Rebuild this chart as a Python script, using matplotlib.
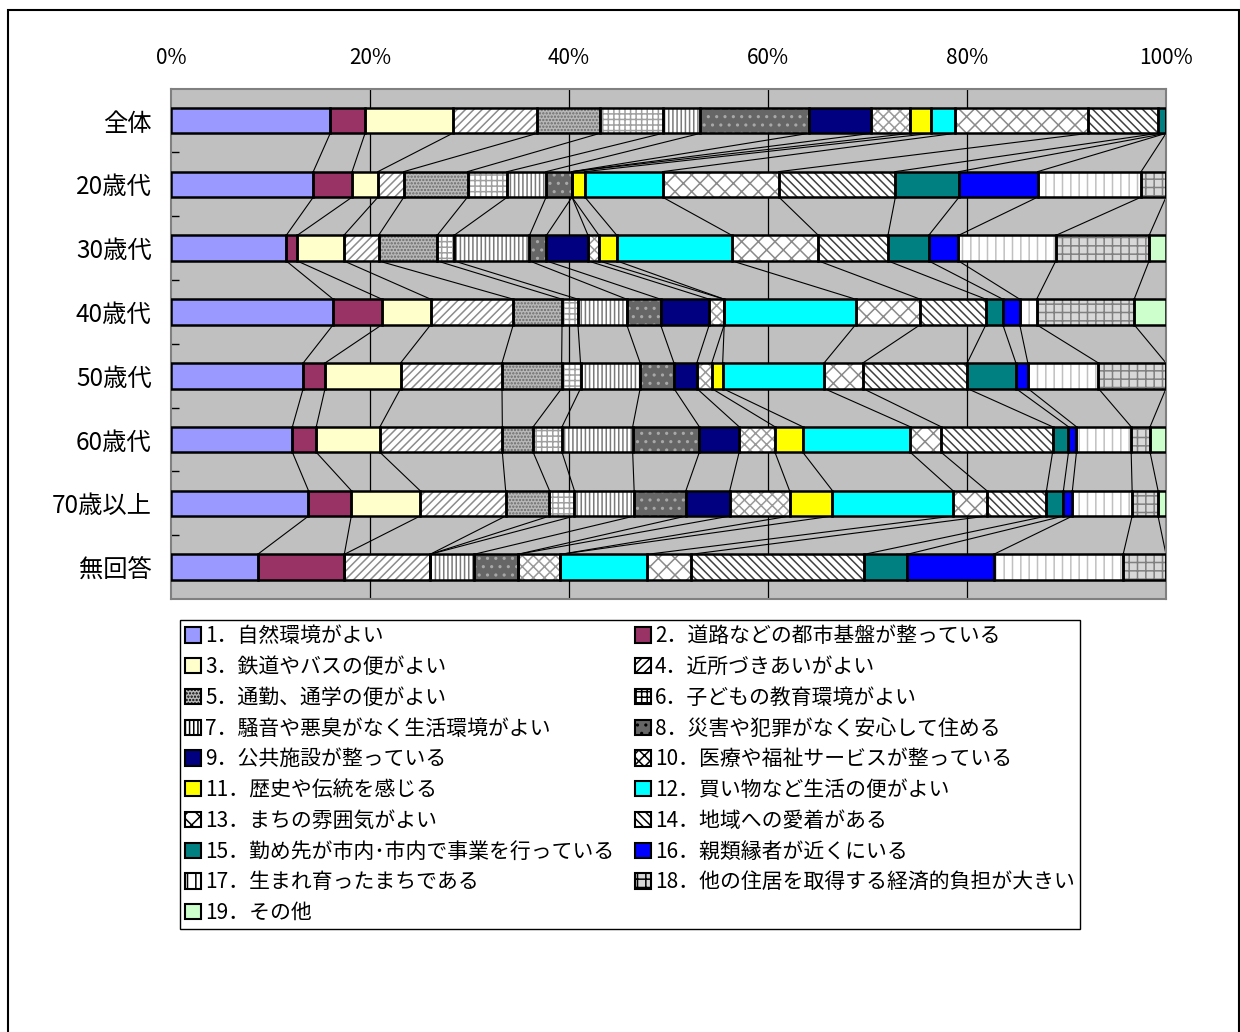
import numpy as np
import matplotlib.pyplot as plt
from matplotlib.patches import Patch, Rectangle

plt.rcParams['font.family'] = ['Noto Sans CJK JP', 'DejaVu Sans']
plt.rcParams['hatch.linewidth'] = 1.1

# categories (top to bottom)
groups = ["全体", "20歳代", "30歳代", "40歳代", "50歳代", "60歳代", "70歳以上", "無回答"]

labels = [
    "1．自然環境がよい",
    "2．道路などの都市基盤が整っている",
    "3．鉄道やバスの便がよい",
    "4．近所づきあいがよい",
    "5．通勤、通学の便がよい",
    "6．子どもの教育環境がよい",
    "7．騒音や悪臭がなく生活環境がよい",
    "8．災害や犯罪がなく安心して住める",
    "9．公共施設が整っている",
    "10．医療や福祉サービスが整っている",
    "11．歴史や伝統を感じる",
    "12．買い物など生活の便がよい",
    "13．まちの雰囲気がよい",
    "14．地域への愛着がある",
    "15．勤め先が市内･市内で事業を行っている",
    "16．親類縁者が近くにいる",
    "17．生まれ育ったまちである",
    "18．他の住居を取得する経済的負担が大きい",
    "19．その他",
]

# percent values per group, one list per answer 1..19
s01 = [16.0, 14.3, 11.6, 16.3, 13.3, 12.2, 13.8, 8.7]
s02 = [3.5, 3.9, 1.1, 4.9, 2.2, 2.4, 4.3, 8.7]
s03 = [8.8, 2.6, 4.7, 4.9, 7.6, 6.4, 6.9, 0.0]
s04 = [8.5, 2.6, 3.5, 8.3, 10.2, 12.3, 8.6, 8.6]
s05 = [6.3, 6.4, 5.9, 4.9, 6.0, 3.1, 4.4, 0.0]
s06 = [6.3, 4.0, 1.7, 1.6, 1.9, 2.9, 2.5, 0.0]
s07 = [3.8, 3.9, 7.6, 4.9, 6.0, 7.1, 6.0, 4.4]
s08 = [10.9, 2.6, 1.7, 3.4, 3.4, 6.7, 5.2, 4.4]
s09 = [6.3, 0.0, 4.2, 4.9, 2.3, 4.0, 4.4, 0.0]
s10 = [3.9, 0.0, 1.1, 1.5, 1.5, 3.6, 6.0, 4.3]
s11 = [2.1, 1.3, 1.8, 0.0, 1.1, 2.8, 4.3, 0.0]
s12 = [2.4, 7.8, 11.6, 13.2, 10.2, 10.8, 12.1, 8.7]
s13 = [13.4, 11.7, 8.7, 6.5, 3.9, 3.1, 3.4, 4.4]
s14 = [7.0, 11.7, 7.0, 6.6, 10.5, 11.2, 6.0, 17.4]
s15 = [0.8, 6.4, 4.1, 1.7, 4.9, 1.6, 1.7, 4.3]
s16 = [0.0, 7.9, 3.0, 1.7, 1.2, 0.8, 0.9, 8.7]
s17 = [0.0, 10.4, 9.8, 1.7, 7.1, 5.5, 6.0, 13.0]
s18 = [0.0, 2.5, 9.4, 9.8, 6.8, 1.9, 2.6, 4.3]
s19 = [0.0, 0.0, 1.7, 3.2, 0.0, 1.6, 0.8, 0.0]

series = [s01, s02, s03, s04, s05, s06, s07, s08, s09, s10,
          s11, s12, s13, s14, s15, s16, s17, s18, s19]

# fill style per answer: (face, hatch, hatch colour)
styles = [
    ("#9999FF", None, None),
    ("#993366", None, None),
    ("#FFFFCC", None, None),
    ("white", "////", "#8c8c8c"),
    ("#b8b8b8", ".....", "#6a6a6a"),
    ("white", "+++", "#a0a0a0"),
    ("white", "||||", "#7a7a7a"),
    ("#666666", "..", "#a8a8a8"),
    ("#000080", None, None),
    ("white", "xxx", "#9a9a9a"),
    ("#FFFF00", None, None),
    ("#00FFFF", None, None),
    ("white", "xx", "#8a8a8a"),
    ("white", "\\\\\\\\", "#404040"),
    ("#008080", None, None),
    ("#0000FF", None, None),
    ("white", "||", "#c0c0c0"),
    ("#d8d8d8", "++", "#808080"),
    ("#CCFFCC", None, None),
]

data = np.array(series)
data = data / data.sum(axis=0) * 100
cum = np.vstack([np.zeros(len(groups)), np.cumsum(data, axis=0)])

fig = plt.figure(figsize=(12.4, 10.32), dpi=100)
ax = fig.add_axes([171 / 1240, 1 - 599 / 1032, 995 / 1240, 510.3 / 1032])
ax.set_facecolor("#C0C0C0")

y = np.arange(len(groups))
h = 0.4

for xv in [20, 40, 60, 80]:
    ax.axvline(xv, color="black", lw=0.9, zorder=1)

for k in range(len(series)):
    face, hatch, hc = styles[k]
    if hatch:
        ax.barh(y, data[k], left=cum[k], height=h, color=face, hatch=hatch,
                edgecolor=hc, linewidth=0, zorder=3)
    else:
        ax.barh(y, data[k], left=cum[k], height=h, color=face, linewidth=0, zorder=3)
    ax.barh(y, data[k], left=cum[k], height=h, fill=False,
            edgecolor="black", linewidth=1.8, zorder=4)

# series lines between neighbouring bars
for i in range(len(groups) - 1):
    for k in range(1, len(series) + 1):
        ax.plot([cum[k][i], cum[k][i + 1]], [i + h / 2, i + 1 - h / 2],
                color="black", lw=0.8, zorder=2)

ax.set_xlim(0, 100)
ax.set_ylim(len(groups) - 0.5, -0.5)
ax.set_xticks([0, 20, 40, 60, 80, 100])
ax.set_xticklabels(["0%", "20%", "40%", "60%", "80%", "100%"], fontsize=15)
ax.xaxis.tick_top()
ax.tick_params(axis="x", length=0, pad=14)
ax.set_yticks(y)
ax.set_yticklabels(groups, fontsize=17.5)
ax.set_yticks(np.arange(0.5, len(groups) - 0.5, 1), minor=True)
ax.tick_params(axis="y", which="major", length=0, pad=14)
ax.tick_params(axis="y", which="minor", direction="in", length=6, width=1, color="black")
for sp in ax.spines.values():
    sp.set_color("#808080")
    sp.set_linewidth(1.5)

# legend in row order (1 left, 2 right, ...)
handles = [Patch(facecolor=styles[k][0], hatch=styles[k][1], edgecolor="black",
                 linewidth=1.5, label=labels[k]) for k in range(len(series))]
order = list(range(0, 19, 2)) + list(range(1, 19, 2))
leg = fig.legend([handles[k] for k in order], [labels[k] for k in order],
                 loc="upper left", bbox_to_anchor=(180 / 1240, 1 - 620 / 1032),
                 ncol=2, fontsize=15, frameon=True, fancybox=False,
                 edgecolor="black", framealpha=1, borderpad=0.25,
                 handlelength=0.75, handleheight=0.75, handletextpad=0.2,
                 labelspacing=0.42, columnspacing=1.0, borderaxespad=0)
leg.get_frame().set_linewidth(1.0)

fig.add_artist(Rectangle((8 / 1240, -0.01), 1231 / 1240, 1 - 10 / 1032 + 0.01,
                         transform=fig.transFigure, fill=False,
                         edgecolor="black", lw=1.5))

fig.savefig("out.png", dpi=100, facecolor="white")
